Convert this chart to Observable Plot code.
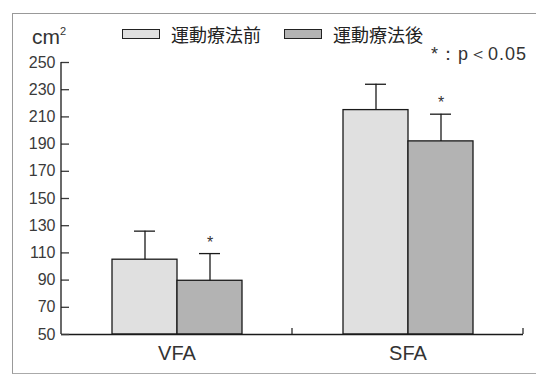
<!DOCTYPE html>
<html>
<head>
<meta charset="utf-8">
<script src="https://cdn.jsdelivr.net/npm/d3@7"></script>
<script src="https://cdn.jsdelivr.net/npm/@observablehq/plot@0.6"></script>
<style>
  html, body { margin: 0; padding: 0; background: #fff; }
  #wrap { position: relative; width: 536px; height: 378px; overflow: hidden; background: #fff;
          font-family: "Liberation Sans", Arial, sans-serif; color: #222; }
  #wrap svg { position: absolute; left: 0; top: 0; }
  .border { position: absolute; left: 12px; top: 13px; width: 540px; height: 359px;
            border-left: 1px solid #999; border-top: 1px solid #999; border-bottom: 1px solid #aaa; }
  .unit { position: absolute; left: 32px; top: 26px; font-size: 21px; line-height: 1; color: #333; }
  .unit sup { font-size: 11px; vertical-align: 9px; }
  .legend { position: absolute; top: 24px; left: 122px; height: 20px; display: flex; align-items: center;
            font-family: "Noto Sans CJK JP", sans-serif; font-size: 18px; color: #222; }
  .sw { width: 38px; height: 10px; border: 1px solid #222; box-sizing: border-box; margin-right: 11px; }
  .item { display: flex; align-items: center; margin-right: 23px; }
  .note { position: absolute; left: 431px; top: 45px; font-size: 18px; line-height: 1; color: #333;
          white-space: nowrap; letter-spacing: 1px; }
</style>
</head>
<body>
<div id="wrap"></div>
<script>
// ---- data ----
const categories = ["VFA", "SFA"];
const phases = ["運動療法前", "運動療法後"];
const beforeMeans = [105, 215];
const afterMeans = [89.5, 192];
const beforeSD = [21, 19];
const afterSD = [20, 20];
const afterSignificant = [true, true];
const yTicks = [50, 70, 90, 110, 130, 150, 170, 190, 210, 230, 250];
const yBase = 50;
const phaseColors = ["#e0e0e0", "#b3b3b3"];
const unitLabel = "cm";
const noteLabel = "*：p＜0.05";

// ---- table ----
const rows = [];
categories.forEach((c, i) => {
  rows.push({cat: c, phase: phases[0], mean: beforeMeans[i], sd: beforeSD[i], sig: false});
  rows.push({cat: c, phase: phases[1], mean: afterMeans[i], sd: afterSD[i], sig: afterSignificant[i]});
});

const plot = Plot.plot({
  width: 536,
  height: 378,
  marginTop: 62,
  marginBottom: 44,
  marginLeft: 61,
  marginRight: 13,
  style: {background: "transparent", fontFamily: "'Liberation Sans', Arial, sans-serif", color: "#222", overflow: "visible"},
  fx: {domain: categories, padding: 0, label: null},
  x: {domain: phases, paddingInner: 0, paddingOuter: 0.77, axis: null},
  y: {domain: [yBase, 250], label: null, axis: null},
  color: {domain: phases, range: phaseColors},
  marks: [
    Plot.barY(rows, {fx: "cat", x: "phase", y1: () => yBase, y2: "mean", fill: "phase", stroke: "#1a1a1a", strokeWidth: 1.3}),
    Plot.ruleX(rows, {fx: "cat", x: "phase", y1: "mean", y2: d => d.mean + d.sd, stroke: "#1a1a1a", strokeWidth: 1.3}),
    Plot.tickY(rows, {fx: "cat", x: "phase", y: d => d.mean + d.sd, insetLeft: 22, insetRight: 22, stroke: "#1a1a1a", strokeWidth: 1.3}),
    Plot.text(rows.filter(d => d.sig), {fx: "cat", x: "phase", y: d => d.mean + d.sd, text: () => "*", dy: -11, fontSize: 16, fill: "#333"}),
    Plot.ruleY([yBase], {stroke: "#1a1a1a", strokeWidth: 1.3}),
    Plot.axisY({ticks: yTicks, tickSize: -8, tickPadding: 14, fontSize: 16, strokeWidth: 1.3, color: "#3a3a3a"}),
    Plot.axisFx({anchor: "bottom", tickSize: 0, tickPadding: 11, fontSize: 20, label: null, color: "#333"})
  ]
});

const wrap = document.getElementById("wrap");
wrap.appendChild(plot);

// axis lines drawn from Plot's own scales
const fx = plot.scale("fx");
const y = plot.scale("y");
const svg = d3.select(plot);
const left = fx.apply(categories[0]);
const y0 = y.apply(yBase);
const yTop = y.apply(250);
svg.append("line").attr("x1", left).attr("x2", left).attr("y1", yTop).attr("y2", y0)
  .attr("stroke", "#1a1a1a").attr("stroke-width", 1.3);
categories.forEach(c => {
  const xr = fx.apply(c) + fx.bandwidth;
  svg.append("line").attr("x1", xr).attr("x2", xr).attr("y1", y0).attr("y2", y0 - 6)
    .attr("stroke", "#1a1a1a").attr("stroke-width", 1.2);
});

// overlays: border, unit, legend, note
const border = document.createElement("div"); border.className = "border"; wrap.appendChild(border);
const unit = document.createElement("div"); unit.className = "unit";
unit.innerHTML = unitLabel + "<sup>2</sup>"; wrap.appendChild(unit);
const legend = document.createElement("div"); legend.className = "legend";
phases.forEach((p, i) => {
  const it = document.createElement("div"); it.className = "item";
  const sw = document.createElement("div"); sw.className = "sw"; sw.style.background = phaseColors[i];
  const t = document.createElement("span"); t.textContent = p;
  it.appendChild(sw); it.appendChild(t); legend.appendChild(it);
});
wrap.appendChild(legend);
const note = document.createElement("div"); note.className = "note"; note.textContent = noteLabel; wrap.appendChild(note);
</script>
</body>
</html>
